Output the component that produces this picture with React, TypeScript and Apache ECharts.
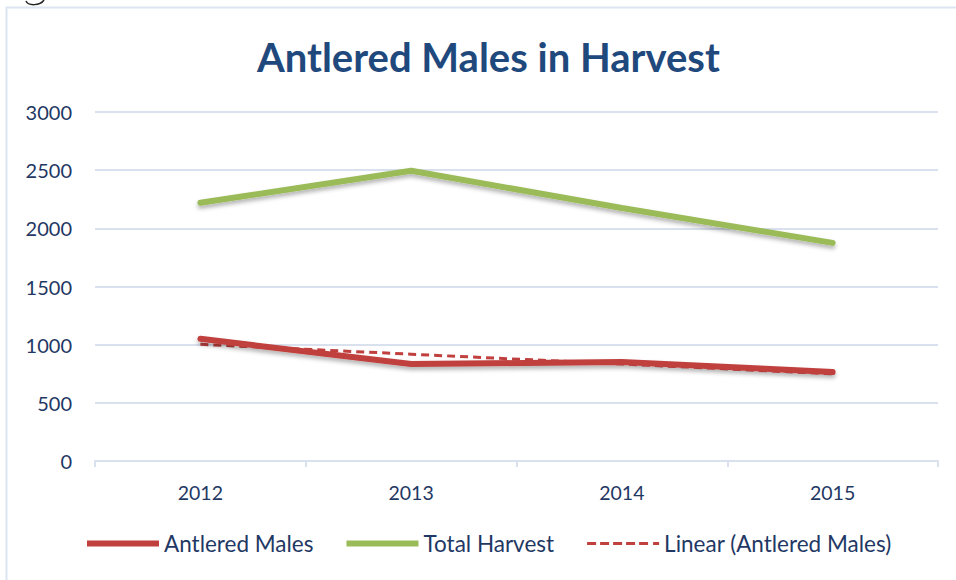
import React, { useEffect, useRef } from "react";
import * as echarts from "echarts";

const years = ["2012", "2013", "2014", "2015"];
const antleredMales = [1050, 834, 851, 765];
const totalHarvest = [2220, 2495, 2175, 1875];
const linearAntlered = [1003, 918, 834, 749];

const FONT = "Lato, 'Open Sans', sans-serif";
const NAVY = "#1F3864";
const DASH_ICON =
  "path://M0,0h9v3h-9zM13,0h9v3h-9zM26,0h9v3h-9zM39,0h9v3h-9zM52,0h9v3h-9zM66,0h6v3h-6z";

export default function App() {
  const ref = useRef<HTMLDivElement>(null);
  useEffect(() => {
    if (!ref.current) return;
    const chart = echarts.init(ref.current, undefined, { renderer: "svg" });
    const shadow = { shadowColor: "rgba(0,0,0,0.3)", shadowBlur: 4, shadowOffsetY: 3 };
    chart.setOption({
      animation: false,
      backgroundColor: "#fff",
      title: {
        text: "Antlered Males in Harvest",
        left: 252,
        top: 32,
        textStyle: { fontFamily: FONT, fontWeight: "bold", fontSize: 40, color: "#1F497D" },
      },
      graphic: [
        {
          type: "rect",
          shape: { x: 6.5, y: 7.5, width: 980, height: 600 },
          style: { fill: "none", stroke: "#DCE6F2", lineWidth: 2 },
          silent: true,
        },
        {
          type: "bezierCurve",
          shape: { x1: 26, y1: 1, cpx1: 28, cpy1: 6, cpx2: 40, cpy2: 6, x2: 44, y2: 0 },
          style: { stroke: "#222", lineWidth: 1.5, fill: "none" },
          silent: true,
        },
      ],
      grid: { left: 95, right: 18, top: 112, bottom: 119 },
      legend: {
        bottom: 20,
        left: 82,
        itemWidth: 72,
        itemHeight: 6,
        itemGap: 33,
        textStyle: { fontFamily: FONT, fontSize: 22.5, color: NAVY },
        data: [
          { name: "Antlered Males", icon: "rect" },
          { name: "Total Harvest", icon: "rect" },
          { name: "Linear (Antlered Males)", icon: DASH_ICON },
        ],
      },
      xAxis: {
        type: "category",
        data: years,
        boundaryGap: true,
        axisLine: { show: true, lineStyle: { color: "#D9E1EE", width: 2 } },
        axisTick: { show: true, length: 6, lineStyle: { color: "#D9E1EE", width: 2 } },
        axisLabel: { fontFamily: FONT, fontSize: 19.5, color: NAVY, margin: 21 },
      },
      yAxis: {
        type: "value",
        min: 0,
        max: 3000,
        interval: 500,
        axisLine: { show: false },
        axisTick: { show: false },
        splitLine: { lineStyle: { color: "#D9E1EE", width: 2 } },
        axisLabel: {
          fontFamily: FONT,
          fontSize: 20,
          color: NAVY,
          margin: 23,
          formatter: (v: number) => String(v),
        },
      },
      series: [
        {
          name: "Antlered Males",
          type: "line",
          data: antleredMales,
          symbol: "none",
          z: 3,
          lineStyle: { color: "#C0403E", width: 6, cap: "round", ...shadow },
          itemStyle: { color: "#C0403E" },
        },
        {
          name: "Total Harvest",
          type: "line",
          data: totalHarvest,
          symbol: "none",
          lineStyle: { color: "#9BBB59", width: 6, cap: "round", ...shadow },
          itemStyle: { color: "#9BBB59" },
        },
        {
          name: "Linear (Antlered Males)",
          type: "line",
          data: linearAntlered,
          symbol: "none",
          z: 2,
          lineStyle: { color: "#C0403E", width: 3, type: [8, 5] },
          itemStyle: { color: "#C0403E" },
        },
      ],
    });
    return () => chart.dispose();
  }, []);
  return (
    <div
      ref={ref}
      style={{ position: "fixed", left: 0, top: 0, width: 956, height: 580 }}
    />
  );
}
